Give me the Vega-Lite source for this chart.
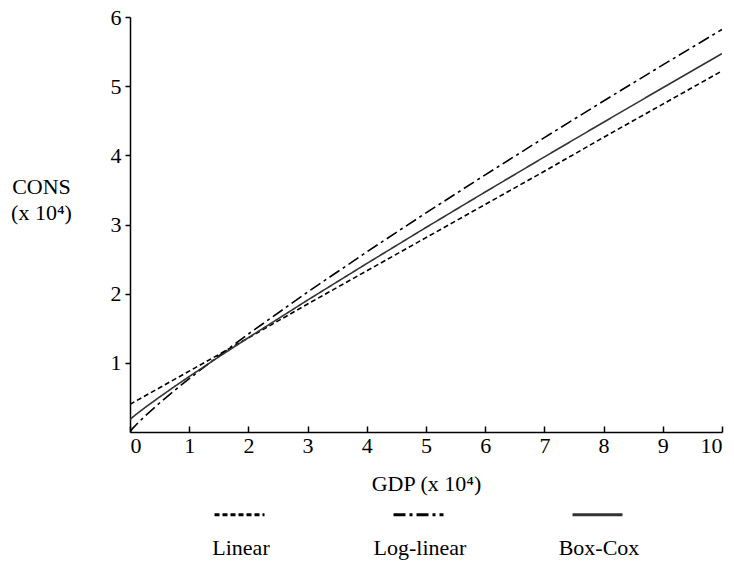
{
  "$schema": "https://vega.github.io/schema/vega-lite/v6.json",
  "width": 592,
  "height": 415,
  "autosize": "none",
  "padding": {"left": 130, "top": 17, "right": 12, "bottom": 129},
  "background": "white",
  "config": {
    "font": "Liberation Serif",
    "view": {"stroke": null},
    "axis": {"grid": false, "domainColor": "black", "tickColor": "black", "labelColor": "black", "titleColor": "black", "labelFont": "Liberation Serif", "titleFont": "Liberation Serif", "labelFontSize": 22, "titleFontSize": 22, "titleFontWeight": "normal", "domainWidth": 1.5, "tickWidth": 1.5}
  },
  "data": {"values": [
    {"series": "Linear", "x": 0, "y": 0.40},
    {"series": "Linear", "x": 1, "y": 0.88},
    {"series": "Linear", "x": 2, "y": 1.36},
    {"series": "Linear", "x": 3, "y": 1.85},
    {"series": "Linear", "x": 4, "y": 2.33},
    {"series": "Linear", "x": 5, "y": 2.81},
    {"series": "Linear", "x": 6, "y": 3.29},
    {"series": "Linear", "x": 7, "y": 3.77},
    {"series": "Linear", "x": 8, "y": 4.26},
    {"series": "Linear", "x": 9, "y": 4.74},
    {"series": "Linear", "x": 10, "y": 5.22},
    {"series": "Log-linear", "x": 0, "y": 0},
    {"series": "Log-linear", "x": 0.05, "y": 0.056},
    {"series": "Log-linear", "x": 0.1, "y": 0.102},
    {"series": "Log-linear", "x": 0.25, "y": 0.228},
    {"series": "Log-linear", "x": 0.5, "y": 0.419},
    {"series": "Log-linear", "x": 0.75, "y": 0.599},
    {"series": "Log-linear", "x": 1, "y": 0.771},
    {"series": "Log-linear", "x": 1.5, "y": 1.101},
    {"series": "Log-linear", "x": 2, "y": 1.417},
    {"series": "Log-linear", "x": 3, "y": 2.023},
    {"series": "Log-linear", "x": 4, "y": 2.604},
    {"series": "Log-linear", "x": 5, "y": 3.168},
    {"series": "Log-linear", "x": 6, "y": 3.718},
    {"series": "Log-linear", "x": 7, "y": 4.257},
    {"series": "Log-linear", "x": 8, "y": 4.786},
    {"series": "Log-linear", "x": 9, "y": 5.307},
    {"series": "Log-linear", "x": 10, "y": 5.82},
    {"series": "Box-Cox", "x": 0, "y": 0.18},
    {"series": "Box-Cox", "x": 0.05, "y": 0.218},
    {"series": "Box-Cox", "x": 0.1, "y": 0.253},
    {"series": "Box-Cox", "x": 0.25, "y": 0.351},
    {"series": "Box-Cox", "x": 0.5, "y": 0.506},
    {"series": "Box-Cox", "x": 0.75, "y": 0.656},
    {"series": "Box-Cox", "x": 1, "y": 0.802},
    {"series": "Box-Cox", "x": 1.5, "y": 1.086},
    {"series": "Box-Cox", "x": 2, "y": 1.364},
    {"series": "Box-Cox", "x": 3, "y": 1.907},
    {"series": "Box-Cox", "x": 4, "y": 2.436},
    {"series": "Box-Cox", "x": 5, "y": 2.957},
    {"series": "Box-Cox", "x": 6, "y": 3.470},
    {"series": "Box-Cox", "x": 7, "y": 3.977},
    {"series": "Box-Cox", "x": 8, "y": 4.479},
    {"series": "Box-Cox", "x": 9, "y": 4.977},
    {"series": "Box-Cox", "x": 10, "y": 5.47}
  ]},
  "mark": {"type": "line", "strokeWidth": 1.6, "clip": true},
  "encoding": {
    "x": {"field": "x", "type": "quantitative", "scale": {"domain": [0, 10], "nice": false},
      "axis": {"values": [0,1,2,3,4,5,6,7,8,9,10], "tickSize": -6, "labelPadding": 9, "title": "GDP (x 10⁴)", "titlePadding": 17}},
    "y": {"field": "y", "type": "quantitative", "scale": {"domain": [0, 6], "nice": false},
      "axis": {"values": [1,2,3,4,5,6], "tickSize": 5, "labelPadding": 4, "title": ["CONS", "(x 10⁴)"], "titleAngle": 0, "titleAlign": "center", "titleBaseline": "middle", "titleX": -89, "titleY": 169, "titleLineHeight": 26}},
    "strokeDash": {"field": "series", "type": "nominal",
      "scale": {"domain": ["Linear", "Log-linear", "Box-Cox"], "range": [[5, 3], [12, 4, 3, 4], [1, 0]]},
      "legend": {"title": null, "orient": "none", "legendX": 83, "legendY": 471, "direction": "horizontal",
        "symbolType": "stroke", "symbolSize": 2500, "symbolStrokeWidth": 3, "labelFontSize": 22, "labelFont": "Liberation Serif", "labelColor": "black",
        "labelAlign": "center", "labelOffset": -25, "columnPadding": 85, "gridAlign": "all",
        "encode": {"labels": {"update": {"dy": {"value": 33}}}}}},
    "color": {"field": "series", "type": "nominal",
      "scale": {"domain": ["Linear", "Log-linear", "Box-Cox"], "range": ["black", "black", "#333333"]}}
  }
}
